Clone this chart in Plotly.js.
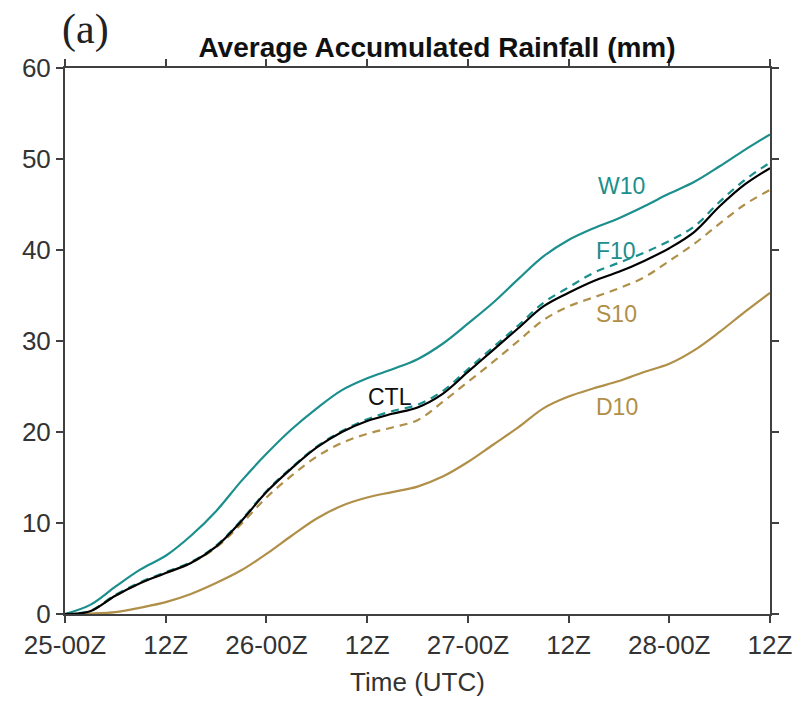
<!DOCTYPE html>
<html>
<head>
<meta charset="utf-8">
<script src="https://cdn.plot.ly/plotly-3.0.1.min.js"></script>
<style>html,body{margin:0;padding:0;background:#fff;}#chart{width:795px;height:705px;}</style>
</head>
<body>
<div id="chart"></div>
<script>
// hours since 25-00Z
const hours = [0,3,6,9,12,15,18,21,24,27,30,33,36,39,42,45,48,51,54,57,60,63,66,69,72,75,78,81,84];
const ctl = [0,0.3,2.0,3.4,4.5,5.6,7.4,10.2,13.4,16.0,18.3,20.0,21.2,22.0,22.7,24.2,26.6,29.0,31.4,33.8,35.3,36.6,37.6,38.8,40.2,42.0,44.8,47.2,49.0];
const w10 = [0,1.0,3.0,4.9,6.4,8.6,11.3,14.6,17.6,20.3,22.6,24.6,25.9,26.9,28.0,29.7,31.9,34.2,36.8,39.3,41.1,42.4,43.5,44.8,46.2,47.5,49.2,51.0,52.7];
const f10 = [0,0.35,2.1,3.5,4.6,5.7,7.5,10.3,13.5,16.1,18.4,20.1,21.4,22.3,23.0,24.5,26.9,29.3,31.7,34.2,35.9,37.5,38.6,39.7,41.0,42.6,45.3,47.7,49.6];
const s10 = [0,0.3,2.0,3.4,4.5,5.6,7.3,9.9,12.8,15.2,17.3,18.8,19.8,20.5,21.3,23.3,25.5,27.7,30.0,32.3,33.8,34.8,35.8,37.0,38.8,40.7,42.9,45.0,46.6];
const d10 = [0,0.05,0.2,0.7,1.3,2.2,3.4,4.8,6.6,8.6,10.5,11.9,12.8,13.4,14.0,15.1,16.7,18.6,20.5,22.6,23.9,24.8,25.6,26.6,27.5,29.0,31.0,33.2,35.3];
const tickHours = [0,12,24,36,48,60,72,84];
const tickLabels = ['25-00Z','12Z','26-00Z','12Z','27-00Z','12Z','28-00Z','12Z'];
const labelNames = ['W10','F10','S10','CTL','D10'];
const labelHours = [66.3,65.7,65.7,38.7,65.8];
const labelValues = [47.0,39.9,33.0,23.9,22.7];

const teal = '#1b8f8d';
const gold = '#b08f48';
const labelColors = [teal, teal, gold, '#111111', gold];

function tr(y, color, dash, name){
  return {x: hours, y: y, type:'scatter', mode:'lines', name: name,
    line:{color: color, width: 2.2, dash: dash, shape:'spline', smoothing:1}};
}
const data = [
  tr(d10, gold, 'solid', 'D10'),
  tr(s10, gold, '8px,6px', 'S10'),
  tr(w10, teal, 'solid', 'W10'),
  tr(f10, teal, '8px,6px', 'F10'),
  tr(ctl, '#000000', 'solid', 'CTL')
];

const annotations = labelNames.map((t,i)=>({
  x: labelHours[i], y: labelValues[i], xref:'x', yref:'y', text: t, showarrow:false,
  font:{family:'Liberation Sans, Arial, sans-serif', size:23, color: labelColors[i]},
  xanchor:'center', yanchor:'middle'
}));
annotations.push({
  x: (85-65)/705, y: (614-29)/546, xref:'paper', yref:'paper', text:'(a)', showarrow:false,
  font:{family:'Liberation Serif, Times New Roman, serif', size:42, color:'#222'},
  xanchor:'center', yanchor:'middle'
});

const axisCommon = {
  showline:true, linecolor:'#404040', linewidth:2, mirror:'ticks',
  ticks:'outside', ticklen:7, tickwidth:2, tickcolor:'#404040',
  showgrid:false, zeroline:false,
  tickfont:{family:'Liberation Sans, Arial, sans-serif', size:26, color:'#333'}
};

const layout = {
  width:795, height:705,
  margin:{l:65, r:25, t:68, b:91},
  paper_bgcolor:'#fff', plot_bgcolor:'#fff',
  showlegend:false,
  title:{text:'<b>Average Accumulated Rainfall (mm)</b>', xref:'container', yref:'container',
    x: 437/795, y: 1 - 47/705, xanchor:'center', yanchor:'middle',
    font:{family:'Liberation Sans, Arial, sans-serif', size:28, color:'#111'}},
  xaxis: Object.assign({}, axisCommon, {
    range:[0,84], tickvals: tickHours, ticktext: tickLabels,
    title:{text:'Time (UTC)', font:{family:'Liberation Sans, Arial, sans-serif', size:26, color:'#333'}, standoff:14}
  }),
  yaxis: Object.assign({}, axisCommon, {
    range:[0,60], tickvals:[0,10,20,30,40,50,60]
  }),
  annotations: annotations
};
Plotly.newPlot('chart', data, layout, {displayModeBar:false, staticPlot:true});
</script>
</body>
</html>
